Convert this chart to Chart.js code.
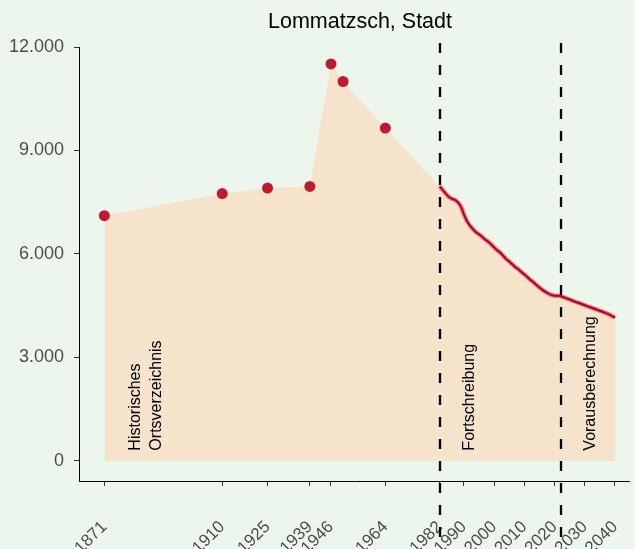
<!DOCTYPE html>
<html>
<head>
<meta charset="utf-8">
<script src="https://cdn.jsdelivr.net/npm/chart.js@4/dist/chart.umd.min.js"></script>
<style>
  body { margin: 0; background: #edf6ec; }
  #wrap { width: 635px; height: 549px; }
</style>
</head>
<body>
<div id="wrap"><canvas id="chart"></canvas></div>
<script>
// Historisches Ortsverzeichnis (Punkte)
const histYears = [1871, 1910, 1925, 1939, 1946, 1950, 1964]
const histValues = [7110, 7750, 7910, 7960, 11510, 11000, 9650]

// Fortschreibung + Vorausberechnung (Linie)
const lineYears = []
for (let y = 1982; y <= 2040; y++) lineYears.push(y)
const lineValues = [
  7960, 7850, 7750, 7650, 7600, 7570, 7500, 7380, 7150, 6950,
  6820, 6720, 6630, 6570, 6500, 6420, 6360, 6280, 6190, 6110,
  6040, 5950, 5850, 5780, 5700, 5620, 5560, 5480, 5410, 5330,
  5250, 5180, 5100, 5030, 4960, 4900, 4850, 4810, 4790, 4790,
  4780, 4745, 4715, 4680, 4645, 4610, 4580, 4550, 4515, 4480,
  4450, 4420, 4385, 4355, 4320, 4285, 4250, 4200, 4160
]

const xTicks = [1871, 1910, 1925, 1939, 1946, 1964, 1982, 1990, 2000, 2010, 2020, 2030, 2040]
const yTicks = [0, 3000, 6000, 9000, 12000]
const breakYears = [1982, 2022]
const periodLabels = [
  { year: 1881.4, text: 'Historisches' },
  { year: 1888.4, text: 'Ortsverzeichnis' },
  { year: 1992, text: 'Fortschreibung' },
  { year: 2032, text: 'Vorausberechnung' }
]

const histPts = histYears.map((x, i) => ({ x: x, y: histValues[i] }))
const linePts = lineYears.map((x, i) => ({ x: x, y: lineValues[i] }))

const fmt = v => String(v).replace(/\B(?=(\d{3})+(?!\d))/g, '.')
const FONT = '"Liberation Sans", Arial, sans-serif'

const decor = {
  id: 'decor',
  beforeDraw(chart) {
    const c = chart.ctx
    c.save()
    c.fillStyle = '#edf6ec'
    c.fillRect(0, 0, chart.width, chart.height)
    c.restore()
  },
  afterDatasetsDraw(chart) {
    const c = chart.ctx
    const xs = chart.scales.x, ys = chart.scales.y
    c.save()
    c.strokeStyle = '#000'
    c.lineWidth = 2.3
    c.setLineDash([10, 12])
    breakYears.forEach(yr => {
      const px = Math.round(xs.getPixelForValue(yr))
      c.beginPath()
      c.moveTo(px, 43)
      c.lineTo(px, chart.height)
      c.stroke()
    })
    c.setLineDash([])
    c.fillStyle = '#000'
    c.font = '16px ' + FONT
    c.textAlign = 'left'
    c.textBaseline = 'middle'
    periodLabels.forEach(l => {
      c.save()
      c.translate(xs.getPixelForValue(l.year), ys.getPixelForValue(300))
      c.rotate(-Math.PI / 2)
      c.fillText(l.text, 0, 0)
      c.restore()
    })
    // Titel etwas rechts der Mitte wie im Original
    c.font = '21.5px ' + FONT
    c.textAlign = 'center'
    c.fillText('Lommatzsch, Stadt', 360, 22)
    c.restore()
  }
}

new Chart(document.getElementById('chart'), {
  type: 'line',
  data: {
    datasets: [
      {
        data: histPts.concat(linePts),
        borderWidth: 0,
        pointRadius: 0,
        fill: 'origin',
        backgroundColor: '#f5e3cc',
        order: 4
      },
      {
        data: linePts,
        borderColor: '#e3808a',
        borderWidth: 4.5,
        pointRadius: 0,
        fill: false,
        order: 3
      },
      {
        data: linePts,
        borderColor: '#b0001e',
        borderWidth: 2,
        pointRadius: 0,
        fill: false,
        order: 2
      },
      {
        data: histPts,
        showLine: false,
        pointRadius: 5.5,
        pointBackgroundColor: '#bf1a31',
        pointBorderWidth: 0,
        order: 1
      }
    ]
  },
  options: {
    responsive: true,
    maintainAspectRatio: false,
    animation: false,
    layout: { padding: { left: 0, right: 5, top: 47, bottom: 0 } },
    plugins: {
      legend: { display: false },
      tooltip: { enabled: false },
      title: { display: false }
    },
    scales: {
      x: {
        type: 'linear',
        min: 1862.6,
        max: 2044.8,
        afterBuildTicks: s => { s.ticks = xTicks.map(v => ({ value: v })) },
        afterFit: s => { s.height = 68; s.paddingLeft = 0; s.paddingRight = 0 },
        grid: { drawOnChartArea: false, drawTicks: true, tickLength: 5, color: '#333' },
        border: { display: true, color: '#000', width: 1 },
        ticks: {
          autoSkip: false,
          maxRotation: 45,
          minRotation: 45,
          padding: 31,
          color: '#4d4d4d',
          font: { family: FONT, size: 17 },
          callback: v => String(v)
        }
      },
      y: {
        min: -580,
        max: 12000,
        afterBuildTicks: s => { s.ticks = yTicks.map(v => ({ value: v })) },
        afterFit: s => { s.width = 79; s.paddingTop = 0; s.paddingBottom = 0 },
        grid: { drawOnChartArea: false, drawTicks: true, tickLength: 5, color: '#333' },
        border: { display: true, color: '#000', width: 1 },
        ticks: {
          padding: 10,
          color: '#4d4d4d',
          font: { family: FONT, size: 18 },
          callback: v => fmt(v)
        }
      }
    }
  },
  plugins: [decor]
})
</script>
</body>
</html>
